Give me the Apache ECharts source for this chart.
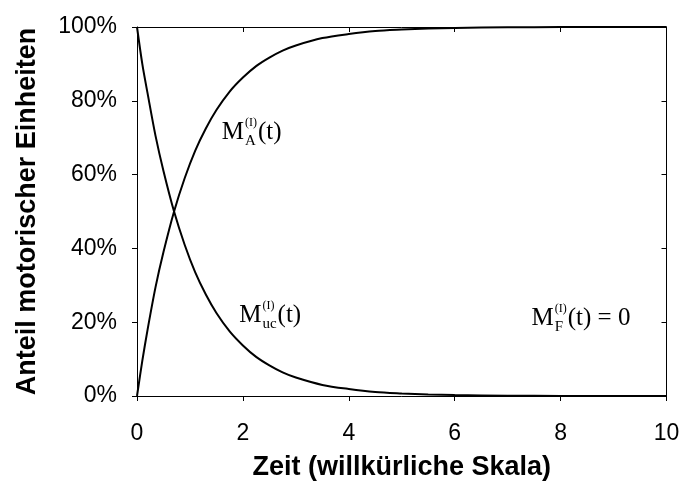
<!DOCTYPE html>
<html>
<head>
<meta charset="utf-8">
<script src="https://cdn.jsdelivr.net/npm/echarts@6/dist/echarts.min.js"></script>
<style>
  html, body { margin: 0; padding: 0; background: #fff; }
  #chart { width: 683px; height: 486px; }
</style>
</head>
<body>
<div id="chart"></div>
<script>
// Time axis (arbitrary scale) and share of motor units in each state, in percent
const times = [0, 0.1, 0.2, 0.35, 0.5, 0.7, 0.9, 1.1, 1.3, 1.5, 1.75, 2, 2.25, 2.5, 2.75, 3, 3.5, 4, 4.5, 5, 5.5, 6, 7, 8, 9, 10];
const shareUc = [100, 90, 82, 70.5, 61, 50, 41, 33.5, 27.5, 22.5, 17.5, 13.7, 10.6, 8.3, 6.4, 5, 3, 1.9, 1.1, 0.7, 0.4, 0.25, 0.1, 0, 0, 0];
const shareA = [0, 9.5, 18, 29.5, 39, 50, 59, 66.5, 72.5, 77.5, 82.5, 86.3, 89.4, 91.7, 93.6, 95, 97, 98.1, 98.9, 99.3, 99.6, 99.75, 99.9, 100, 100, 100];

// Axis ranges and tick steps
const xRange = [0, 10];
const xStep = 2;
const yRange = [0, 100];
const yStep = 20;

// Curve annotations: main letter, superscript, subscript, tail text
const curveLabels = [
  { sub: 'A',  tail: '(t)',     at: [1.60, 69.1] },
  { sub: 'uc', tail: '(t)',     at: [1.93, 19.5] },
  { sub: 'F',  tail: '(t) = 0', at: [7.45, 18.7] }
];

const sansFont = '"Liberation Sans", Arial, sans-serif';
const serifFont = '"Liberation Serif", "Times New Roman", serif';

const chart = echarts.init(document.getElementById('chart'), null, { renderer: 'canvas' });

const lineStyleAxis = { color: '#000', width: 1 };

function pairs(xs, ys) {
  return xs.map((x, i) => [x, ys[i]]);
}

chart.setOption({
  animation: false,
  backgroundColor: '#fff',
  grid: { left: 137, right: 16.5, top: 27, bottom: 89 },
  xAxis: [
    {
      type: 'value', min: xRange[0], max: xRange[1], interval: xStep,
      name: 'Zeit (willkürliche Skala)',
      nameLocation: 'middle', nameGap: 58,
      nameTextStyle: { fontFamily: sansFont, fontWeight: 'bold', fontSize: 27, color: '#000' },
      axisLine: { show: true, onZero: false, lineStyle: lineStyleAxis },
      axisTick: { show: true, inside: false, length: 5, lineStyle: lineStyleAxis },
      axisLabel: { margin: 26, fontFamily: sansFont, fontSize: 23, color: '#000' },
      splitLine: { show: false }
    },
    {
      type: 'value', position: 'top', min: xRange[0], max: xRange[1], interval: xStep,
      axisLine: { show: true, onZero: false, lineStyle: lineStyleAxis },
      axisTick: { show: true, inside: true, length: 5, lineStyle: lineStyleAxis },
      axisLabel: { show: false },
      splitLine: { show: false }
    }
  ],
  yAxis: [
    {
      type: 'value', min: yRange[0], max: yRange[1], interval: yStep,
      name: 'Anteil motorischer Einheiten',
      nameLocation: 'middle', nameGap: 96,
      nameTextStyle: { fontFamily: sansFont, fontWeight: 'bold', fontSize: 27, color: '#000' },
      axisLine: { show: true, onZero: false, lineStyle: lineStyleAxis },
      axisTick: { show: true, inside: false, length: 5, lineStyle: lineStyleAxis },
      axisLabel: { margin: 20, formatter: '{value}%', fontFamily: sansFont, fontSize: 23, color: '#000' },
      splitLine: { show: false }
    },
    {
      type: 'value', position: 'right', min: yRange[0], max: yRange[1], interval: yStep,
      axisLine: { show: true, onZero: false, lineStyle: lineStyleAxis },
      axisTick: { show: true, inside: true, length: 5, lineStyle: lineStyleAxis },
      axisLabel: { show: false },
      splitLine: { show: false }
    }
  ],
  series: [
    {
      name: 'M_uc', type: 'line', xAxisIndex: 0, yAxisIndex: 0,
      data: pairs(times, shareUc),
      smooth: 0.3,
      showSymbol: false, lineStyle: { color: '#000', width: 2 }
    },
    {
      name: 'M_A', type: 'line', xAxisIndex: 0, yAxisIndex: 0,
      data: pairs(times, shareA),
      smooth: 0.3,
      showSymbol: false, lineStyle: { color: '#000', width: 2 }
    }
  ]
});

// Build the M^(I)_x(t) annotations as text pieces anchored in data coordinates
const measureCtx = document.createElement('canvas').getContext('2d');
function textWidth(str, size) {
  measureCtx.font = size + 'px ' + serifFont;
  return measureCtx.measureText(str).width;
}

const bigSize = 25, supSize = 12, subSize = 15;
const graphics = [];
curveLabels.forEach((lab) => {
  const p = chart.convertToPixel({ gridIndex: 0 }, lab.at);
  const x = p[0], base = p[1];
  const mW = textWidth('M', bigSize);
  const supW = textWidth('(I)', supSize);
  const subW = textWidth(lab.sub, subSize);
  const xs = x + mW + 1;
  const xt = xs + Math.max(supW, subW) + 1;
  const piece = (text, px, baseline, size) => ({
    type: 'text',
    x: px, y: baseline - 0.34 * size,
    style: { text, font: size + 'px ' + serifFont, fill: '#000', align: 'left', verticalAlign: 'middle' },
    silent: true
  });
  graphics.push(piece('M', x, base, bigSize));
  graphics.push(piece('(I)', xs, base - 14, supSize));
  graphics.push(piece(lab.sub, xs, base + 5, subSize));
  graphics.push(piece(lab.tail, xt, base, bigSize));
});
chart.setOption({ graphic: graphics });
</script>
</body>
</html>
